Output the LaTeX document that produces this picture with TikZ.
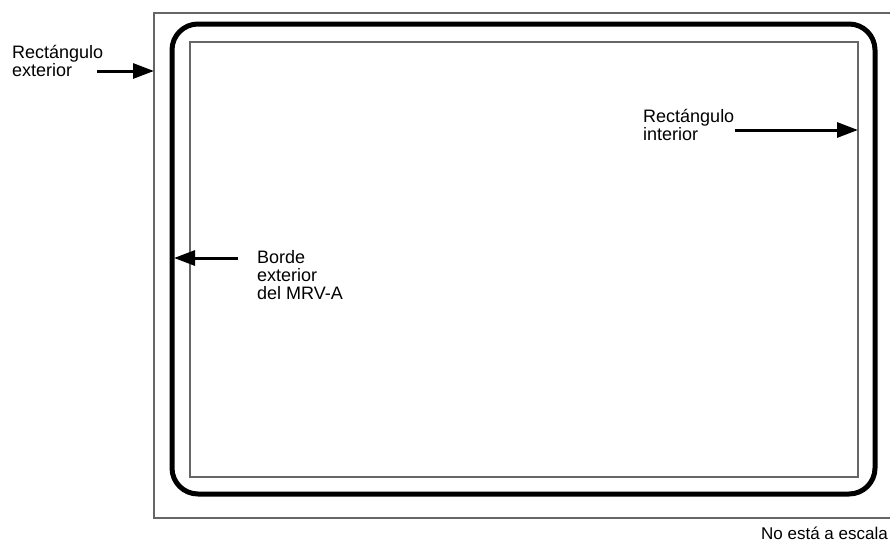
\documentclass[tikz,border=0pt]{standalone}
\usepackage{fontspec}
\setmainfont{Liberation Sans}
\usetikzlibrary{arrows.meta}

\begin{document}
\begin{tikzpicture}[x=1pt,y=-1pt,
    note/.style={anchor=north west,align=left,inner sep=0pt,font=\fontsize{18}{18}\selectfont},
    pointer/.style={line width=3pt,-{Triangle[length=21pt,width=15pt]}},
    thinframe/.style={line width=1.6pt,black!60}]

            %\draw [help lines] (0,0) grid (890,541);
            \useasboundingbox (0,0) rectangle (890,541);

            % frames
            \draw[thinframe] (895,13) -- (154,13) -- (154,518) -- (895,518);
            \draw[line width=5pt,rounded corners=26pt] (172,24) rectangle (875,494);
            \draw[thinframe] (190,42) rectangle (858,477);

            \path   (12,45) node (ext) [note] {Rectángulo\\exterior}
                    (643,109) node (int) [note] {Rectángulo\\interior}
                    (257,250) node (borde) [note] {Borde\\exterior\\del MRV-A}
                    (888,533) node (escala) [anchor=east,inner sep=0pt,font=\fontsize{17}{17}\selectfont] {No está a escala};

            \path   (97,71) coordinate (exttail)
                    (154,71) coordinate (exttip)
                    (735,130) coordinate (inttail)
                    (858,130) coordinate (inttip)
                    (238,258) coordinate (bordetail)
                    (174,258) coordinate (bordetip);

            \draw[pointer] (exttail) -- (exttip);
            \draw[pointer] (inttail) -- (inttip);
            \draw[pointer] (bordetail) -- (bordetip);

        \end{tikzpicture}
\end{document}
